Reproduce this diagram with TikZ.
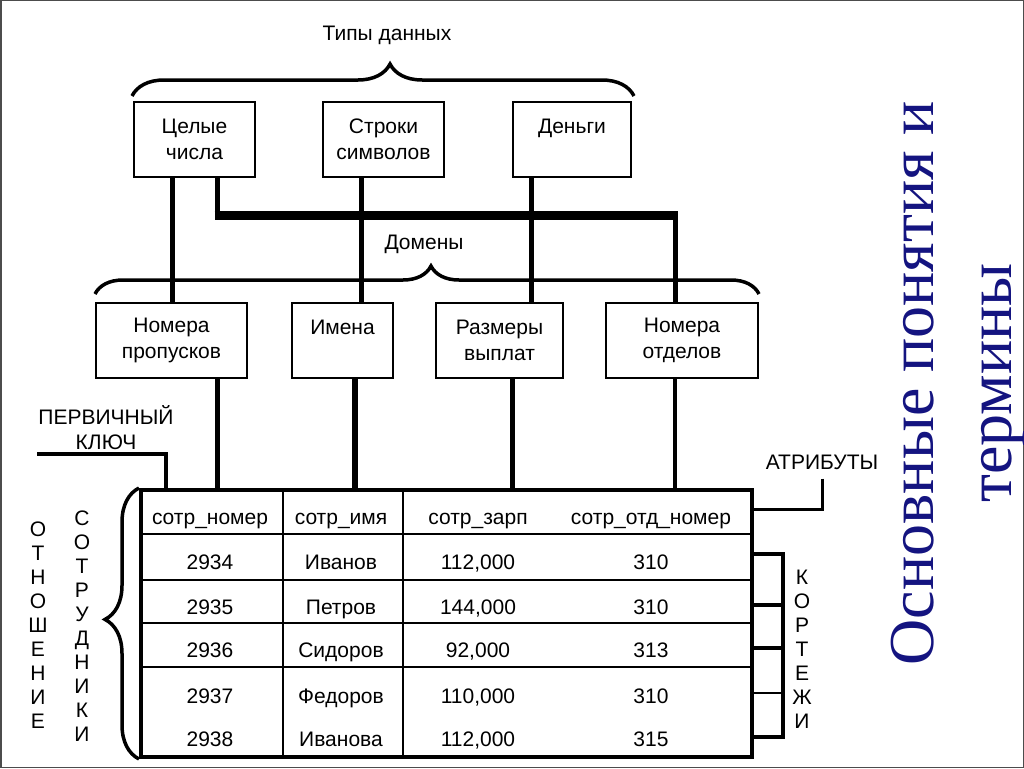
\documentclass[tikz,border=0pt]{standalone}
\usepackage{fontspec}
\setmainfont{Liberation Sans}
\newfontfamily\titlefont{Liberation Serif}
\usepackage{tikz}
\usetikzlibrary{decorations.pathreplacing,calc}

\definecolor{titleblue}{RGB}{20,20,128}

\begin{document}
\begin{tikzpicture}[x=1pt, y=-1pt,
        every node/.style={font=\fontsize{21}{26}\selectfont, inner sep=0pt},
        box/.style={draw, line width=2pt, align=center, minimum height=75pt},
        link/.style={line width=5pt},
        brc/.style 2 args={decorate, line width=3.5pt, decoration={brace, amplitude=#1, aspect=#2}},
        cell/.style={anchor=base},
        letters/.style={align=center, font=\fontsize{21}{24}\selectfont}]
          \useasboundingbox (0,0) rectangle (1024,768);
          \draw[line width=1.5pt, gray!60!black] (0.75,0.75) rectangle (1023.25,767.25);

          \node (types) at (387,35) {Типы данных};
          \node[box, minimum width=121pt] (int) at (194.5,139.5) {Целые\\числа};
          \node[box, minimum width=121pt] (str) at (383.5,139.5) {Строки\\символов};
          \node[box, minimum width=118pt] (money) at (572,139.5) {Деньги\\\mbox{}};
          \draw[brc={32pt}{0.514}] ([shift={(-1pt,5pt)}]int.north west) -- ([shift={(2pt,5pt)}]money.north east);

          \node (domains) at (424,244) {Домены};
          \node[box, minimum width=151pt] (pass) at (171.5,340.5) {Номера\\пропусков};
          \node[box, minimum width=101pt] (name) at (342.5,340.5) {Имена\\\mbox{}};
          \node[box, minimum width=127pt] (pay) at (499.5,340.5) {Размеры\\выплат};
          \node[box, minimum width=152pt] (dept) at (682,340.5) {Номера\\отделов};
          \draw[brc={28pt}{0.506}] ([yshift=8pt]pass.north west) -- ([yshift=8pt]dept.north east);

          \draw[link] (172,0 |- int.south) -- (172,0 |- pass.north);
          \draw[link] (217,0 |- int.south) |- (675,215) -- (675,0 |- dept.north);
          \draw[line width=9pt] (214.5,215) -- (677.5,215);
          \draw[link] (361,0 |- str.south) -- (361,0 |- name.north);
          \draw[link] (531,0 |- money.south) -- (531,0 |- pay.north);

          \node[draw, line width=4pt, minimum width=611pt, minimum height=267pt] (tbl) at (446.5,623.5) {};
          \foreach \y in {534,580,623,667}
               \draw[line width=2pt] (tbl.west |- 0,\y) -- (tbl.east |- 0,\y);
          \foreach \x in {283,403}
               \draw[line width=2pt] (\x,0 |- tbl.north) -- (\x,0 |- tbl.south);

          \draw[link] (217,0 |- pass.south) -- (217,0 |- tbl.north);
          \draw[link, line width=6pt] (355,0 |- name.south) -- (355,0 |- tbl.north);
          \draw[link] (512,0 |- pay.south) -- (512,0 |- tbl.north);
          \draw[link, line width=4pt] (675,0 |- dept.south) -- (675,0 |- tbl.north);

          \node[cell] (hnum) at (210,524) {сотр\_номер};
          \node[cell] (hname) at (341,524) {сотр\_имя};
          \node[cell] (hpay) at (478,524) {сотр\_зарп};
          \node[cell] (hdept) at (651,524) {сотр\_отд\_номер};
          \foreach \y/\n/\nm/\s/\d in {569/2934/Иванов/{112,000}/310, 614/2935/Петров/{144,000}/310,
                    657/2936/Сидоров/{92,000}/313, 703/2937/Федоров/{110,000}/310, 746/2938/Иванова/{112,000}/315}{
               \node[cell] (num\n) at (210,\y) {\n};
               \node[cell] (name\n) at (341,\y) {\nm};
               \node[cell] (pay\n) at (478,\y) {\s};
               \node[cell] (dept\n) at (651,\y) {\d};
          }

          \node[align=center, anchor=south, font=\fontsize{21}{25}\selectfont] (key) at (106,450) {ПЕРВИЧНЫЙ\\КЛЮЧ};
          \coordinate (keyend) at (37,454);
          \draw[line width=4pt] (keyend) -| (166,0 |- tbl.north);

          \node (attr) at (822,462) {АТРИБУТЫ};
          \draw[line width=3pt] ([yshift=-9pt]attr.south) |- (tbl.east |- 0,509);

          \draw[line width=4pt] (tbl.east |- 0,554) -| (783,737) -- (tbl.east |- 0,737);
          \foreach \y in {605,648}
               \draw[line width=4pt] (tbl.east |- 0,\y) -- (783,\y);
          \draw[line width=2pt] (tbl.east |- 0,693) -- (783,693);
          \node[letters] (tuples) at (802,649.5) {К\\О\\Р\\Т\\Е\\Ж\\И};

          \draw[brc={34pt}{0.515}] (tbl.south west) -- (tbl.north west);
          \node[letters] (rel) at (38,625) {О\\Т\\Н\\О\\Ш\\Е\\Н\\И\\Е};
          \node[letters] (emp) at (82,626.5) {С\\О\\Т\\Р\\У\\Д\\Н\\И\\К\\И};

          \node[rotate=90, align=center, text=titleblue, font=\titlefont\fontsize{64}{78}\selectfont] (title) at (958,383) {Основные понятия и\\термины};
\end{tikzpicture}
\end{document}
